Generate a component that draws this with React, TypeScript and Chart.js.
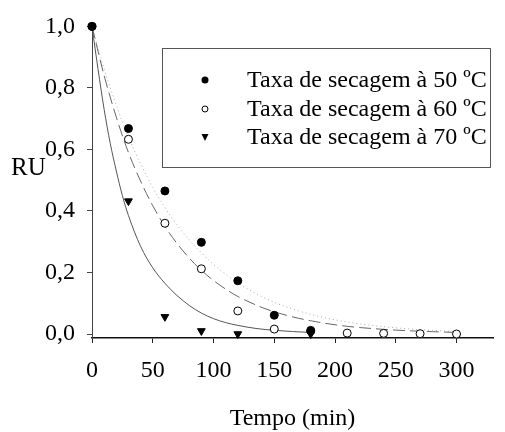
import React, { useEffect, useRef } from "react";
import { Chart, registerables } from "chart.js";

Chart.register(...registerables);

// Measured points (time in min, moisture ratio RU)
const t50 = [0, 30, 60, 90, 120, 150, 180];
const ru50 = [1.0, 0.668, 0.465, 0.298, 0.173, 0.061, 0.01];

const t60 = [0, 30, 60, 90, 120, 150, 180, 210, 240, 270, 300];
const ru60 = [1.0, 0.633, 0.36, 0.212, 0.075, 0.016, 0.012, 0.003, 0.002, 0.001, 0.0];

const t70 = [0, 30, 60, 90, 120, 180];
const ru70 = [1.0, 0.432, 0.056, 0.01, 0.0, 0.0];

// Fitted curves
const fitT70 = [0, 5, 10, 15, 20, 25, 30, 40, 50, 60, 70, 80, 90, 100, 110, 120, 135, 150, 165, 180];
const fit70 = [1.0, 0.86, 0.73, 0.62, 0.53, 0.45, 0.385, 0.285, 0.215, 0.165, 0.125, 0.093, 0.068, 0.05, 0.037, 0.028, 0.018, 0.012, 0.008, 0.005];

const fitT = [0, 10, 20, 30, 40, 50, 60, 70, 80, 90, 100, 110, 120, 130, 140, 150, 160, 170, 180, 190, 200, 210, 220, 230, 240, 250, 260, 270, 280, 290, 300];
const fit60 = [1.0, 0.84, 0.705, 0.59, 0.497, 0.417, 0.35, 0.294, 0.247, 0.207, 0.174, 0.146, 0.122, 0.103, 0.086, 0.072, 0.061, 0.051, 0.043, 0.036, 0.03, 0.025, 0.021, 0.018, 0.015, 0.0126, 0.0106, 0.0089, 0.0075, 0.0063, 0.0052];
const fit50 = [1.0, 0.862, 0.744, 0.641, 0.553, 0.477, 0.411, 0.355, 0.306, 0.264, 0.226, 0.194, 0.166, 0.142, 0.121, 0.103, 0.088, 0.075, 0.064, 0.054, 0.046, 0.039, 0.033, 0.028, 0.024, 0.02, 0.017, 0.014, 0.012, 0.01, 0.008];

const xTicks = [0, 50, 100, 150, 200, 250, 300];
const yTicks = [0, 0.2, 0.4, 0.6, 0.8, 1.0];

const legendLabels = [
  "Taxa de secagem à 50 ºC",
  "Taxa de secagem à 60 ºC",
  "Taxa de secagem à 70 ºC",
];
const yTitle = "RU";
const xTitle = "Tempo (min)";

const FONT = "'Liberation Serif', 'Times New Roman', serif";

const zip = (xs: number[], ys: number[]) => xs.map((x, i) => ({ x, y: ys[i] }));

export default function App() {
  const ref = useRef<HTMLCanvasElement | null>(null);

  useEffect(() => {
    document.body.style.margin = "0";
    const canvas = ref.current;
    if (!canvas) return;

    const overlay = {
      id: "overlay",
      afterDraw(chart: any) {
        const ctx = chart.ctx;
        const area = chart.chartArea;
        ctx.save();
        ctx.fillStyle = "#000";
        // RU title
        ctx.font = `25px ${FONT}`;
        ctx.textAlign = "left";
        ctx.textBaseline = "alphabetic";
        ctx.fillText(yTitle, 11, 175);
        // x title
        ctx.font = `24px ${FONT}`;
        ctx.textAlign = "center";
        ctx.fillText(xTitle, (area.left + area.right) / 2, 425);

        // legend box
        const bx = 162, by = 48, bw = 328, bh = 119;
        ctx.strokeStyle = "#555";
        ctx.lineWidth = 1;
        ctx.strokeRect(bx + 0.5, by + 0.5, bw, bh);
        const rows = [80, 109, 137];
        ctx.textAlign = "left";
        ctx.textBaseline = "middle";
        ctx.font = `24px ${FONT}`;
        rows.forEach((ry, i) => {
          const mx = 205;
          ctx.fillStyle = "#000";
          ctx.strokeStyle = "#000";
          ctx.lineWidth = 1;
          if (i === 0) {
            ctx.beginPath();
            ctx.arc(mx, ry, 3.5, 0, Math.PI * 2);
            ctx.fill();
          } else if (i === 1) {
            ctx.beginPath();
            ctx.arc(mx, ry, 3, 0, Math.PI * 2);
            ctx.fillStyle = "#fff";
            ctx.fill();
            ctx.stroke();
          } else {
            ctx.beginPath();
            ctx.moveTo(mx - 3.5, ry - 3);
            ctx.lineTo(mx + 3.5, ry - 3);
            ctx.lineTo(mx, ry + 4);
            ctx.closePath();
            ctx.fill();
          }
          ctx.fillStyle = "#000";
          ctx.fillText(legendLabels[i], 247, ry + 1);
        });
        ctx.restore();
      },
    };

    const chart = new Chart(canvas, {
      type: "scatter",
      data: {
        datasets: [
          {
            label: legendLabels[0],
            data: zip(t50, ru50),
            pointStyle: "circle",
            pointRadius: 4,
            pointBackgroundColor: "#000",
            pointBorderColor: "#000",
            pointBorderWidth: 1,
            clip: false as any,
          },
          {
            label: legendLabels[1],
            data: zip(t60, ru60),
            pointStyle: "circle",
            pointRadius: 4,
            pointBackgroundColor: "#fff",
            pointBorderColor: "#000",
            pointBorderWidth: 1,
            clip: false as any,
          },
          {
            label: legendLabels[2],
            data: zip(t70, ru70),
            pointStyle: "triangle",
            rotation: 180,
            pointRadius: 4.5,
            pointBackgroundColor: "#000",
            pointBorderColor: "#000",
            pointBorderWidth: 1,
            clip: false as any,
          },
          {
            label: "fit70",
            data: zip(fitT70, fit70),
            showLine: true,
            borderColor: "#555",
            borderWidth: 1,
            pointRadius: 0,
            cubicInterpolationMode: "monotone",
            clip: false as any,
          },
          {
            label: "fit60",
            data: zip(fitT, fit60),
            showLine: true,
            borderColor: "#666",
            borderWidth: 1,
            borderDash: [12, 5],
            pointRadius: 0,
            cubicInterpolationMode: "monotone",
            clip: false as any,
          },
          {
            label: "fit50",
            data: zip(fitT, fit50),
            showLine: true,
            borderColor: "#aaa",
            borderWidth: 1,
            borderDash: [1, 3],
            pointRadius: 0,
            cubicInterpolationMode: "monotone",
            clip: false as any,
          },
        ],
      },
      options: {
        animation: false,
        responsive: false,
        maintainAspectRatio: false,
        layout: { padding: { left: 0, right: 12, top: 25, bottom: 0 } },
        plugins: {
          legend: { display: false },
          tooltip: { enabled: false },
          title: { display: false },
        },
        scales: {
          x: {
            type: "linear",
            min: 0,
            max: 330,
            afterBuildTicks: (s: any) => {
              s.ticks = xTicks.map((v) => ({ value: v }));
            },
            afterFit: (s: any) => {
              s.height = 94;
            },
            grid: {
              drawOnChartArea: false,
              drawTicks: true,
              tickLength: 5,
              color: "#222",
            },
            border: { display: true, color: "#111", width: 1.5 },
            ticks: {
              color: "#000",
              font: { family: FONT, size: 24 },
              padding: 13,
              maxRotation: 0,
            },
          },
          y: {
            type: "linear",
            min: -0.013,
            max: 1.0,
            afterBuildTicks: (s: any) => {
              s.ticks = yTicks.map((v) => ({ value: v }));
            },
            afterFit: (s: any) => {
              s.width = 92;
            },
            grid: {
              drawOnChartArea: false,
              drawTicks: true,
              tickLength: 5,
              color: "#444",
            },
            border: { display: true, color: "#444", width: 1 },
            ticks: {
              color: "#000",
              font: { family: FONT, size: 24 },
              padding: 12,
              callback: (v: any) => Number(v).toFixed(1).replace(".", ","),
            },
          },
        },
      },
      plugins: [overlay],
    } as any);

    return () => chart.destroy();
  }, []);

  return (
    <div style={{ width: 505, height: 432, background: "#fff" }}>
      <canvas ref={ref} width={505} height={432} style={{ display: "block" }} />
    </div>
  );
}
